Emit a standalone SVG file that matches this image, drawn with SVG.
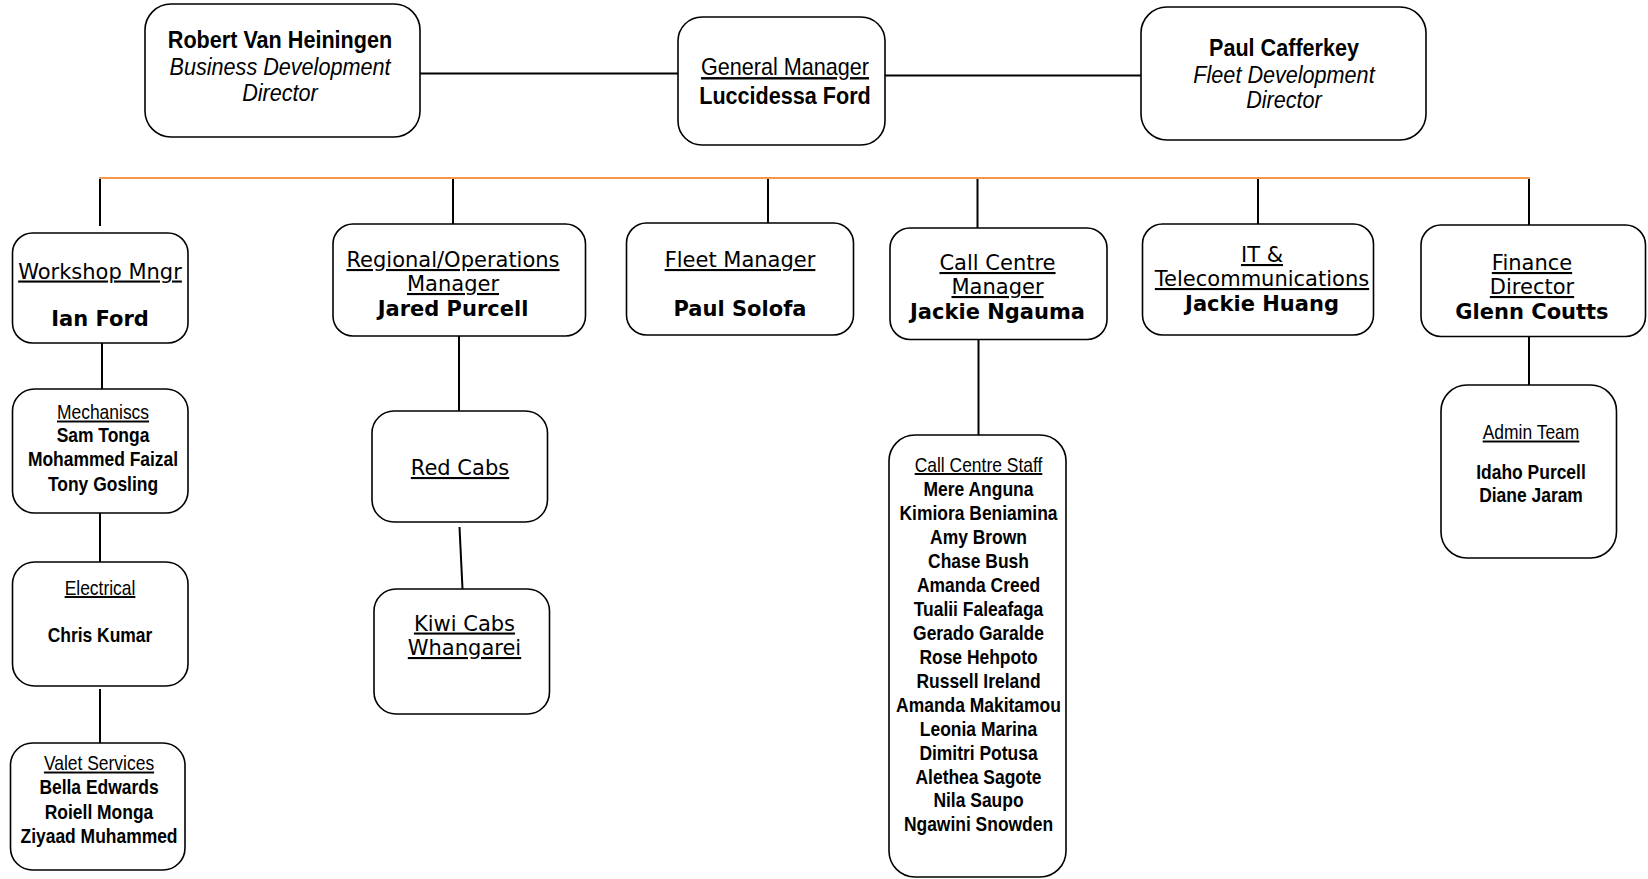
<svg xmlns="http://www.w3.org/2000/svg" width="1648" height="879" viewBox="0 0 1648 879">
<style>
.box{fill:#fff;stroke:#000;stroke-width:1.6}
.ln{stroke:#000;stroke-width:2;fill:none}
.or{stroke:#f79646;stroke-width:2.2;fill:none}
.a{font-family:"Liberation Sans",Arial,sans-serif;fill:#000;text-anchor:middle}
.t{font-size:24px}
.s{font-size:19.4px}
.v{font-family:"DejaVu Sans",Verdana,sans-serif;font-size:21px;fill:#000;text-anchor:middle}
.b{font-weight:bold}
.i{font-style:italic}
.u{text-decoration:underline}
</style>
<rect width="1648" height="879" fill="#fff"/>
<g id="connectors">
<line class="ln" x1="420" y1="73.5" x2="678" y2="73.5"/>
<line class="ln" x1="885" y1="75.5" x2="1141" y2="75.5"/>
<line class="ln" x1="100" y1="178" x2="100" y2="226"/>
<line class="ln" x1="453" y1="178" x2="453" y2="224"/>
<line class="ln" x1="768" y1="178" x2="768" y2="223"/>
<line class="ln" x1="977.5" y1="178" x2="977.5" y2="228"/>
<line class="ln" x1="1258" y1="178" x2="1258" y2="224"/>
<line class="ln" x1="1529" y1="178" x2="1529" y2="225"/>
<line class="or" x1="99" y1="178" x2="1530" y2="178"/>
<line class="ln" x1="102" y1="343" x2="102" y2="389"/>
<line class="ln" x1="100" y1="513" x2="100" y2="562"/>
<line class="ln" x1="100" y1="689" x2="100" y2="743"/>
<line class="ln" x1="459" y1="336" x2="459" y2="411"/>
<line class="ln" x1="459.5" y1="527" x2="462.5" y2="589"/>
<line class="ln" x1="978.5" y1="339.5" x2="978.5" y2="435"/>
<line class="ln" x1="1529" y1="336" x2="1529" y2="385"/>
</g>
<g id="robert">
<rect class="box" x="145" y="4" width="275" height="133" rx="26"/>
<g transform="translate(280 0) scale(0.9 1)">
<text class="a t b" x="0" y="48">Robert Van Heiningen</text>
<text class="a t i" x="0" y="75.5">Business Development</text>
<text class="a t i" x="0" y="101.5">Director</text>
</g>
</g>
<g id="gm">
<rect class="box" x="678" y="17" width="207" height="128" rx="24"/>
<g transform="translate(785 0) scale(0.9 1)">
<text class="a t u" x="0" y="75">General Manager</text>
<text class="a t b" x="0" y="104.5">Luccidessa Ford</text>
</g>
</g>
<g id="paul">
<rect class="box" x="1141" y="7" width="285" height="133" rx="26"/>
<g transform="translate(1284 0) scale(0.9 1)">
<text class="a t b" x="0" y="56">Paul Cafferkey</text>
<text class="a t i" x="0" y="83.5">Fleet Development</text>
<text class="a t i" x="0" y="108">Director</text>
</g>
</g>
<g id="workshop">
<rect class="box" x="12.5" y="233" width="175.5" height="110" rx="20"/>
<text class="v u" x="100" y="278.5">Workshop Mngr</text>
<text class="v b" x="100" y="326">Ian Ford</text>
</g>
<g id="regional">
<rect class="box" x="333" y="224" width="252.5" height="112" rx="20"/>
<text class="v u" x="453" y="267">Regional/Operations</text>
<text class="v u" x="453" y="291">Manager</text>
<text class="v b" x="453" y="315.5">Jared Purcell</text>
</g>
<g id="fleet">
<rect class="box" x="626.5" y="223" width="227" height="112" rx="20"/>
<text class="v u" x="740" y="267">Fleet Manager</text>
<text class="v b" x="740" y="315.5">Paul Solofa</text>
</g>
<g id="callcentre">
<rect class="box" x="890" y="228" width="217" height="111.5" rx="20"/>
<text class="v u" x="997.5" y="270">Call Centre</text>
<text class="v u" x="997.5" y="294">Manager</text>
<text class="v b" x="997.5" y="318.5">Jackie Ngauma</text>
</g>
<g id="it">
<rect class="box" x="1142.5" y="224" width="231" height="111" rx="20"/>
<text class="v u" x="1262" y="262">IT &amp;</text>
<text class="v u" x="1262" y="286">Telecommunications</text>
<text class="v b" x="1262" y="311">Jackie Huang</text>
</g>
<g id="finance">
<rect class="box" x="1421" y="225" width="224.5" height="111.5" rx="20"/>
<text class="v u" x="1532" y="270">Finance</text>
<text class="v u" x="1532" y="294">Director</text>
<text class="v b" x="1532" y="318.5">Glenn Coutts</text>
</g>
<g id="mechanics">
<rect class="box" x="12.5" y="389" width="175.5" height="124" rx="22"/>
<g transform="translate(103 0) scale(0.9 1)">
<text class="a s u" x="0" y="419.5">Mechaniscs</text>
<text class="a s b" x="0" y="442.5">Sam Tonga</text>
<text class="a s b" x="0" y="466.5">Mohammed Faizal</text>
<text class="a s b" x="0" y="491">Tony Gosling</text>
</g>
</g>
<g id="electrical">
<rect class="box" x="12.5" y="562" width="175.5" height="124" rx="22"/>
<g transform="translate(100 0) scale(0.9 1)">
<text class="a s u" x="0" y="595">Electrical</text>
<text class="a s b" x="0" y="642.5">Chris Kumar</text>
</g>
</g>
<g id="valet">
<rect class="box" x="10.5" y="743" width="174.5" height="127" rx="22"/>
<g transform="translate(99 0) scale(0.9 1)">
<text class="a s u" x="0" y="770.5">Valet Services</text>
<text class="a s b" x="0" y="794.5">Bella Edwards</text>
<text class="a s b" x="0" y="819">Roiell Monga</text>
<text class="a s b" x="0" y="843">Ziyaad Muhammed</text>
</g>
</g>
<g id="redcabs">
<rect class="box" x="372" y="411" width="175.5" height="111" rx="22"/>
<text class="v u" x="460" y="475">Red Cabs</text>
</g>
<g id="kiwicabs">
<rect class="box" x="374" y="589" width="175.5" height="125" rx="22"/>
<text class="v u" x="464.5" y="630.5">Kiwi Cabs</text>
<text class="v u" x="464.5" y="655">Whangarei</text>
</g>
<g id="callstaff">
<rect class="box" x="889" y="435" width="177" height="442" rx="26"/>
<g transform="translate(978.5 0) scale(0.9 1)">
<text class="a s u" x="0" y="472">Call Centre Staff</text>
<text class="a s b" x="0" y="496.3">Mere Anguna</text>
<text class="a s b" x="0" y="520.3">Kimiora Beniamina</text>
<text class="a s b" x="0" y="544.2">Amy Brown</text>
<text class="a s b" x="0" y="568.1">Chase Bush</text>
<text class="a s b" x="0" y="592.1">Amanda Creed</text>
<text class="a s b" x="0" y="616">Tualii Faleafaga</text>
<text class="a s b" x="0" y="640">Gerado Garalde</text>
<text class="a s b" x="0" y="663.9">Rose Hehpoto</text>
<text class="a s b" x="0" y="687.8">Russell Ireland</text>
<text class="a s b" x="0" y="711.8">Amanda Makitamou</text>
<text class="a s b" x="0" y="735.7">Leonia Marina</text>
<text class="a s b" x="0" y="759.7">Dimitri Potusa</text>
<text class="a s b" x="0" y="783.6">Alethea Sagote</text>
<text class="a s b" x="0" y="807.5">Nila Saupo</text>
<text class="a s b" x="0" y="831.5">Ngawini Snowden</text>
</g>
</g>
<g id="admin">
<rect class="box" x="1441" y="385" width="175.5" height="173" rx="26"/>
<g transform="translate(1531 0) scale(0.9 1)">
<text class="a s u" x="0" y="439.5">Admin Team</text>
<text class="a s b" x="0" y="479.5">Idaho Purcell</text>
<text class="a s b" x="0" y="502.5">Diane Jaram</text>
</g>
</g>
</svg>
